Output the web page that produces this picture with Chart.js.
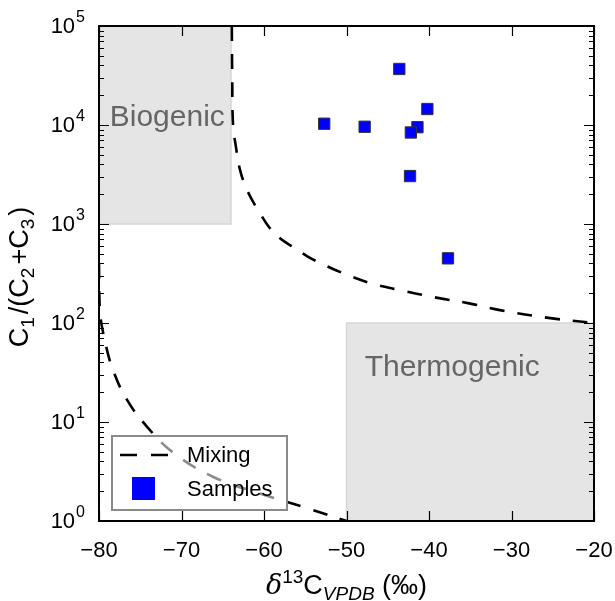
<!DOCTYPE html>
<html>
<head>
<meta charset="UTF-8">
<title>C1/(C2+C3) vs d13C</title>
<script src="https://cdn.jsdelivr.net/npm/chart.js"></script>
<style>
  body { margin: 0; background: #fff; }
  canvas { display: block; }
</style>
</head>
<body>
<canvas id="chart" width="615" height="601"></canvas>
<script>
// samples
const sampleX = [-43.6, -40.2, -52.7, -47.8, -41.4, -42.2, -42.3, -37.7];
const sampleY = [36800, 14500, 10300, 9600, 9500, 8400, 3050, 450];

// mixing curves
const mixUpperX = [-63.9, -63.85, -63.75, -63.4, -62.9, -62.2, -61.45, -60.5, -59.4, -58.1, -56.5, -54.8, -53.2, -50.4, -47.1, -43.5, -39.5, -35.0, -31.4, -25.3, -20.0];
const mixUpperY = [100000, 30000, 10000, 6000, 3500, 2365, 1750, 1290, 933, 722, 586, 475, 404, 318, 253, 215, 183, 157, 135, 112, 100];
const mixLowerX = [-80.0, -79.9, -79.3, -78.3, -76.6, -74.2, -71.0, -66.2, -60.5, -54.8, -50.0];
const mixLowerY = [400, 135, 67, 33.5, 16.7, 9.0, 4.9, 2.8, 1.9, 1.35, 1.0];

// source regions
const regionNames = ['Biogenic', 'Thermogenic'];
const regionX = [[-80, -64], [-50, -20]];
const regionY = [[1000, 100000], [1, 100]];

// axes
const xTicks = [-80, -70, -60, -50, -40, -30, -20];
const yDecades = [0, 1, 2, 3, 4, 5];

const FONT = '"Liberation Sans", Arial, sans-serif';
const toPts = (xs, ys) => xs.map((v, i) => ({ x: v, y: ys[i] }));

const decor = {
  id: 'decor',
  beforeDatasetsDraw(chart) {
    const { ctx, scales: { x, y } } = chart;
    ctx.save();
    regionNames.forEach((name, i) => {
      const x0 = x.getPixelForValue(regionX[i][0]);
      const x1 = x.getPixelForValue(regionX[i][1]);
      const y0 = y.getPixelForValue(regionY[i][1]);
      const y1 = y.getPixelForValue(regionY[i][0]);
      ctx.fillStyle = '#e5e5e5';
      ctx.fillRect(x0, y0, x1 - x0, y1 - y0);
      ctx.strokeStyle = '#d6d6d6';
      ctx.lineWidth = 1.5;
      ctx.strokeRect(x0, y0, x1 - x0, y1 - y0);
    });
    ctx.fillStyle = '#666';
    ctx.font = '30px ' + FONT;
    ctx.textBaseline = 'alphabetic';
    ctx.textAlign = 'left';
    ctx.fillText('Biogenic', x.getPixelForValue(-78.7), y.getPixelForValue(9700));
    ctx.fillText('Thermogenic', x.getPixelForValue(-47.8), y.getPixelForValue(29));
    ctx.restore();
  },
  afterDraw(chart) {
    const { ctx, chartArea: a, scales: { x, y } } = chart;
    ctx.save();

    // legend
    const lx = a.left + 13, ly = a.bottom - 85, lw = 175, lh = 74;
    ctx.fillStyle = 'rgba(255,255,255,0.55)';
    ctx.fillRect(lx, ly, lw, lh);
    ctx.strokeStyle = '#8a8a8a';
    ctx.lineWidth = 2;
    ctx.strokeRect(lx, ly, lw, lh);
    const mix = chart.data.datasets[0];
    ctx.strokeStyle = mix.borderColor;
    ctx.lineWidth = mix.borderWidth;
    ctx.setLineDash([17, 14]);
    ctx.beginPath();
    ctx.moveTo(lx + 8, ly + 19);
    ctx.lineTo(lx + 56, ly + 19);
    ctx.stroke();
    ctx.setLineDash([]);
    const smp = chart.data.datasets[2];
    ctx.fillStyle = smp.backgroundColor;
    ctx.fillRect(lx + 20, ly + 41, 23, 23);
    ctx.fillStyle = '#000';
    ctx.font = '22px ' + FONT;
    ctx.textBaseline = 'middle';
    ctx.fillText(mix.label, lx + 75, ly + 20);
    ctx.fillText(smp.label, lx + 75, ly + 54);

    // spines
    ctx.strokeStyle = '#000';
    ctx.lineWidth = 2;
    ctx.strokeRect(a.left, a.top, a.right - a.left, a.bottom - a.top);

    // inward ticks
    ctx.lineWidth = 1.2;
    ctx.beginPath();
    xTicks.forEach(v => {
      const px = Math.round(x.getPixelForValue(v)) + 0.5;
      ctx.moveTo(px, a.bottom); ctx.lineTo(px, a.bottom - 10);
      ctx.moveTo(px, a.top); ctx.lineTo(px, a.top + 10);
    });
    yDecades.forEach(d => {
      const py = Math.round(y.getPixelForValue(Math.pow(10, d))) + 0.5;
      ctx.moveTo(a.left, py); ctx.lineTo(a.left + 10, py);
      ctx.moveTo(a.right, py); ctx.lineTo(a.right - 10, py);
      if (d < 5) {
        for (let m = 2; m <= 9; m++) {
          const pm = Math.round(y.getPixelForValue(m * Math.pow(10, d))) + 0.5;
          ctx.moveTo(a.left, pm); ctx.lineTo(a.left + 5, pm);
          ctx.moveTo(a.right, pm); ctx.lineTo(a.right - 5, pm);
        }
      }
    });
    ctx.stroke();

    // y tick labels 10^n
    ctx.fillStyle = '#000';
    ctx.textBaseline = 'middle';
    yDecades.forEach(d => {
      const py = y.getPixelForValue(Math.pow(10, d));
      ctx.font = '16px ' + FONT;
      const ew = ctx.measureText(String(d)).width;
      ctx.textAlign = 'right';
      ctx.fillText(String(d), a.left - 14, py - 8);
      ctx.font = '22px ' + FONT;
      ctx.fillText('10', a.left - 14 - ew - 1, py + 1);
    });

    // y title
    ctx.save();
    ctx.translate(28, 277);
    ctx.rotate(-Math.PI / 2);
    const yParts = [['C', 0], ['1', 1], ['/(C', 0, '', 3], ['2', 1], ['+C', 0, '', 3], ['3', 1], [')', 0, '', 3]];
    drawParts(ctx, yParts, 0, 0);
    ctx.restore();

    // x title
    const xParts = [['\u03b4', 0, 'italic'], ['13', -1], ['C', 0], ['VPDB', 1, 'italic'], [' (\u2030)', 0]];
    drawParts(ctx, xParts, (a.left + a.right) / 2, 594);

    ctx.restore();
  }
};

// text runs: [text, 0 normal / 1 subscript / -1 superscript, style, gap before]
function drawParts(ctx, parts, cx, baseY) {
  const fontFor = p => {
    const size = p[1] === 0 ? 27 : 19;
    const fam = p[0] === '\u03b4' ? '"DejaVu Serif", serif' : FONT;
    return (p[2] || '') + ' ' + size + 'px ' + fam;
  };
  let total = 0;
  const widths = parts.map(p => {
    ctx.font = fontFor(p);
    const w = ctx.measureText(p[0]).width + (p[3] || 0);
    total += w;
    return w;
  });
  let px = cx - total / 2;
  ctx.textAlign = 'left';
  ctx.textBaseline = 'alphabetic';
  parts.forEach((p, i) => {
    ctx.font = fontFor(p);
    const dy = p[1] === 1 ? 6 : (p[1] === -1 ? -11 : 0);
    ctx.fillText(p[0], px + (p[3] || 0), baseY + dy);
    px += widths[i];
  });
}

new Chart(document.getElementById('chart'), {
  type: 'scatter',
  data: {
    datasets: [
      {
        label: 'Mixing',
        data: toPts(mixUpperX, mixUpperY),
        showLine: true,
        borderColor: '#000',
        borderWidth: 2.6,
        borderDash: [15, 13],
        pointRadius: 0,
        tension: 0.4
      },
      {
        label: 'Mixing',
        data: toPts(mixLowerX, mixLowerY),
        showLine: true,
        borderColor: '#000',
        borderWidth: 2.6,
        borderDash: [15, 13],
        pointRadius: 0,
        tension: 0.4
      },
      {
        label: 'Samples',
        data: toPts(sampleX, sampleY),
        pointStyle: 'rect',
        pointRadius: 8,
        backgroundColor: '#0000ff',
        borderColor: '#333',
        borderWidth: 1
      }
    ]
  },
  options: {
    responsive: false,
    animation: false,
    layout: { padding: { top: 26, right: 21, left: 0, bottom: 0 } },
    plugins: { legend: { display: false }, tooltip: { enabled: false } },
    scales: {
      x: {
        type: 'linear',
        min: -80,
        max: -20,
        grid: { display: false },
        border: { display: false },
        ticks: {
          stepSize: 10,
          padding: 9,
          color: '#000',
          font: { family: FONT, size: 22 },
          callback: v => String(v).replace('-', '\u2212')
        },
        afterFit: s => { s.height = 80; s.paddingLeft = 0; s.paddingRight = 0; }
      },
      y: {
        type: 'logarithmic',
        min: 1,
        max: 100000,
        grid: { display: false },
        border: { display: false },
        ticks: { display: false },
        afterFit: s => { s.width = 99; }
      }
    }
  },
  plugins: [decor]
});
</script>
</body>
</html>
